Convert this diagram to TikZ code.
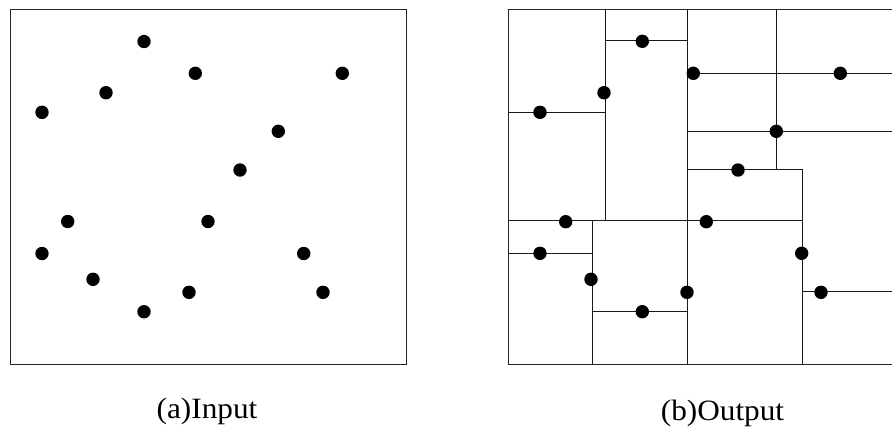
\documentclass[tikz,border=0pt]{standalone}
\usepackage{fontspec}
\setmainfont{Liberation Serif}
\begin{document}
\begin{tikzpicture}[x=1pt,y=-1pt,
  pt/.style={circle,fill=black,inner sep=0pt,minimum size=13.4pt},
  frame/.style={draw=black!85,line width=1pt},
  cut/.style={draw=black!90,line width=1pt},
  captext/.style={font=\fontsize{29.5}{32}\selectfont,xscale=1.06,anchor=base,inner sep=0pt}]
\useasboundingbox (0,0) rectangle (892,432);
\clip (0,0) rectangle (892,432);
% (a) input
\draw[frame] (10,9.3) rectangle (406,364);
\foreach \x/\y [count=\i] in {144/41.5,195.3/73.3,342.3/73.3,106/92.7,42/112.3,278.3/131.3,240/170,67.7/221.5,208/221.5,42/253.5,303.7/253.5,93/279.3,189/292.3,323/292.3,144/311.7}
  \node[pt] (a\i) at (\x,\y) {};
\node[captext] (capa) at (207,418) {(a)Input};
% (b) output
\draw[frame] (508,9.3) rectangle (904,364);
\draw[cut] (605,9.3) -- (605,220.3);
\draw[cut] (687,9.3) -- (687,364);
\draw[cut] (776.3,9.3) -- (776.3,169.3);
\draw[cut] (605,40.3) -- (687,40.3);
\draw[cut] (687,73.3) -- (904,73.3);
\draw[cut] (508,112.3) -- (605,112.3);
\draw[cut] (687,131.3) -- (904,131.3);
\draw[cut] (687,169.3) -- (802.3,169.3);
\draw[cut] (802.3,169.3) -- (802.3,364);
\draw[cut] (508,220.3) -- (802.3,220.3);
\draw[cut] (508,253.3) -- (592.3,253.3);
\draw[cut] (592.3,220.3) -- (592.3,364);
\draw[cut] (592.3,311.3) -- (687,311.3);
\draw[cut] (802.3,291.7) -- (904,291.7);
\foreach \x/\y [count=\i] in {642.3/41.3,693.3/73.3,840.3/73.3,604/92.7,540/112.3,776.3/131.3,738/170,565.7/221.7,706.3/221.7,540/253.3,801.7/253.3,591/279.3,642.3/311.7,687/292.3,821/292.3}
  \node[pt] (b\i) at (\x,\y) {};
\node[captext] (capb) at (722.5,420) {(b)Output};
\end{tikzpicture}
\end{document}
